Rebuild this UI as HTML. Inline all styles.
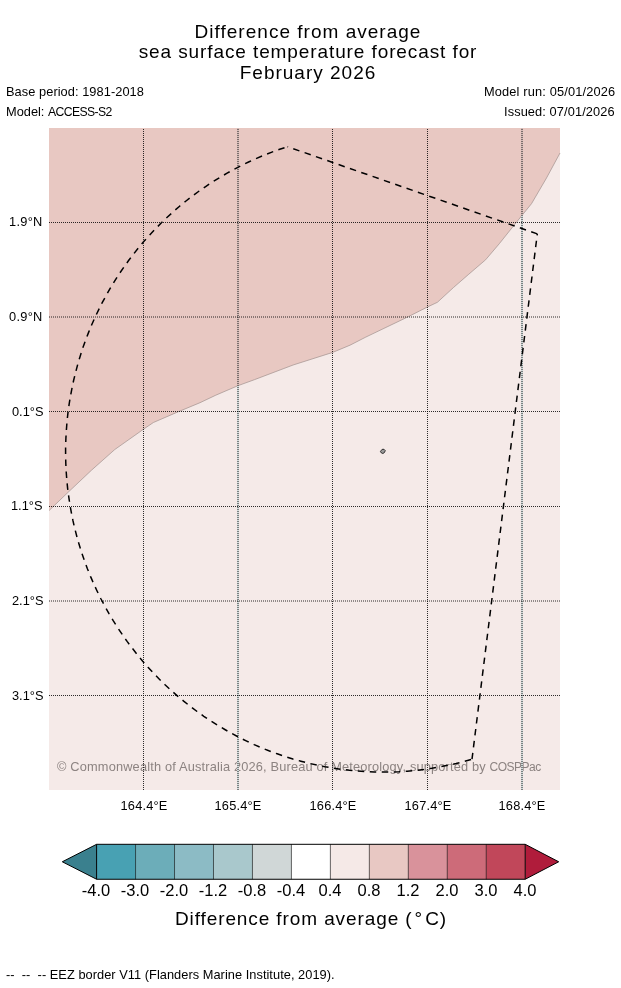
<!DOCTYPE html>
<html><head><meta charset="utf-8"><title>SST forecast</title>
<style>
html,body{margin:0;padding:0;background:#fff;}
body{width:621px;height:988px;position:relative;overflow:hidden;font-family:"Liberation Sans",sans-serif;}
.t{will-change:transform;position:absolute;white-space:nowrap;font-family:"Liberation Sans",sans-serif;}
</style></head><body>
<svg width="621" height="988" viewBox="0 0 621 988" style="position:absolute;left:0;top:0">
<rect x="49" y="128" width="511" height="662" fill="#f5eae8"/>
<path d="M49,128 L49.0,510.6 L68.3,492.1 L91.5,470.2 L114.7,449.6 L143.1,429.5 L153.4,422.5 L179.1,411.4 L200.0,402.7 L215.8,395.2 L238.2,385.6 L254.4,379.7 L293.1,365.0 L332.7,352.4 L350.0,345.2 L365.8,337.1 L408.3,316.7 L427.6,306.9 L437.4,302.3 L453.4,287.6 L468.8,274.2 L485.6,259.8 L499.3,243.7 L514.7,224.4 L531.5,203.7 L546.5,178.0 L560.0,153.0 L560,128 Z" fill="#e8c8c2"/>
<path d="M49.0,510.6 L68.3,492.1 L91.5,470.2 L114.7,449.6 L143.1,429.5 L153.4,422.5 L179.1,411.4 L200.0,402.7 L215.8,395.2 L238.2,385.6 L254.4,379.7 L293.1,365.0 L332.7,352.4 L350.0,345.2 L365.8,337.1 L408.3,316.7 L427.6,306.9 L437.4,302.3 L453.4,287.6 L468.8,274.2 L485.6,259.8 L499.3,243.7 L514.7,224.4 L531.5,203.7 L546.5,178.0 L560.0,153.0" fill="none" stroke="#a0908e" stroke-width="0.7"/>
</svg>

<div class="t" style="left:57.2px;top:757.96px;font-size:12.8px;line-height:17px;color:#8c8381;letter-spacing:0.165px">© Commonwealth of Australia 2026, Bureau of Meteorology, supported by <span style="font-size:12px;letter-spacing:-0.5px">COSPPac</span></div>

<svg width="621" height="988" viewBox="0 0 621 988" style="position:absolute;left:0;top:0">
<path d="M380.45,451.45 L382,449.4 L384,449.25 L385.3,450.65 L384.35,452.65 L382.9,453.5 L381.35,452.95 Z" fill="#9a9a9a" stroke="#111" stroke-width="0.8" stroke-linejoin="round"/>
<line x1="143.50" y1="790" x2="143.50" y2="128" stroke="#000" stroke-opacity="0.82" stroke-width="1" stroke-dasharray="1 1"/>
<line x1="238.00" y1="790" x2="238.00" y2="385.7" stroke="#d3dcdc" stroke-width="2"/>
<line x1="238.00" y1="385.7" x2="238.00" y2="128" stroke="#d4bcb8" stroke-width="2"/>
<line x1="238.00" y1="790" x2="238.00" y2="128" stroke="#000" stroke-opacity="0.82" stroke-width="1" stroke-dasharray="1 1"/>
<line x1="332.50" y1="790" x2="332.50" y2="128" stroke="#000" stroke-opacity="0.82" stroke-width="1" stroke-dasharray="1 1"/>
<line x1="427.50" y1="790" x2="427.50" y2="128" stroke="#000" stroke-opacity="0.82" stroke-width="1" stroke-dasharray="1 1"/>
<line x1="522.00" y1="790" x2="522.00" y2="215.3" stroke="#d3dcdc" stroke-width="2"/>
<line x1="522.00" y1="215.3" x2="522.00" y2="128" stroke="#d4bcb8" stroke-width="2"/>
<line x1="522.00" y1="790" x2="522.00" y2="128" stroke="#000" stroke-opacity="0.82" stroke-width="1" stroke-dasharray="1 1"/>
<line x1="49" y1="222.50" x2="560" y2="222.50" stroke="#000" stroke-opacity="0.82" stroke-width="1" stroke-dasharray="1 1"/>
<line x1="49" y1="317.00" x2="560" y2="317.00" stroke="#000" stroke-opacity="0.82" stroke-width="1" stroke-dasharray="1 1"/>
<line x1="49" y1="411.50" x2="560" y2="411.50" stroke="#000" stroke-opacity="0.82" stroke-width="1" stroke-dasharray="1 1"/>
<line x1="49" y1="506.50" x2="560" y2="506.50" stroke="#000" stroke-opacity="0.82" stroke-width="1" stroke-dasharray="1 1"/>
<line x1="49" y1="601.00" x2="560" y2="601.00" stroke="#000" stroke-opacity="0.82" stroke-width="1" stroke-dasharray="1 1"/>
<line x1="49" y1="695.50" x2="560" y2="695.50" stroke="#000" stroke-opacity="0.82" stroke-width="1" stroke-dasharray="1 1"/>
<g fill="none" stroke="#000" stroke-width="1.5" stroke-dasharray="6.5 5.5">
<path d="M287.5,146.7 L537.3,233.9" stroke-dashoffset="5.9"/>
<path d="M537.3,233.9 L472,759.2" stroke-dashoffset="5.1"/>
<path d="M287.5,146.7 L279.7,149.3 L271.9,152.1 L264.2,155.1 L256.6,158.4 L249.1,161.8 L241.6,165.4 L234.3,169.2 L227.1,173.2 L219.9,177.4 L212.9,181.7 L206.0,186.3 L199.2,191.0 L192.5,195.9 L186.0,201.0 L179.6,206.2 L173.3,211.7 L167.2,217.2 L161.2,223.0 L155.4,228.9 L149.7,234.9 L144.2,241.1 L138.8,247.4 L133.7,253.9 L128.6,260.5 L123.8,267.3 L119.1,274.1 L114.6,281.1 L110.3,288.2 L106.2,295.4 L102.2,302.7 L98.5,310.1 L94.9,317.6 L91.5,325.2 L88.4,332.9 L85.4,340.7 L82.6,348.5 L80.1,356.4 L77.7,364.4 L75.6,372.5 L73.6,380.5 L71.9,388.7 L70.3,396.9 L69.0,405.1 L67.9,413.3 L67.0,421.6 L66.4,429.9 L65.9,438.2 L65.6,446.5 L65.6,454.9 L65.8,463.2 L66.2,471.5 L66.8,479.8 L67.6,488.1 L68.7,496.3 L69.9,504.6 L71.4,512.8 L73.0,520.9 L74.9,529.0 L77.0,537.1 L79.3,545.1 L81.8,553.0 L84.5,560.9 L87.4,568.7 L90.5,576.4 L93.8,584.0 L97.3,591.5 L101.0,599.0 L104.9,606.3 L109.0,613.6 L113.2,620.7 L117.7,627.7 L122.3,634.6 L127.1,641.4 L132.1,648.0 L137.2,654.5 L142.5,660.9 L148.0,667.2 L153.6,673.3 L159.4,679.2 L165.3,685.0 L171.4,690.6 L177.6,696.1 L184.0,701.4 L190.5,706.5 L197.1,711.5 L203.8,716.3 L210.7,720.9 L217.7,725.3 L224.8,729.5 L232.0,733.6 L239.3,737.5 L246.7,741.1 L254.2,744.6 L261.8,747.9 L269.5,751.0 L277.2,753.8 L285.0,756.5 L292.9,759.0 L300.9,761.2 L308.9,763.3 L316.9,765.1 L325.0,766.7 L333.1,768.1 L341.3,769.3 L349.5,770.3 L357.7,771.1 L366.0,771.6 L374.2,772.0 L382.4,772.1 L390.7,772.0 L398.9,771.7 L407.2,771.2 L415.4,770.4 L423.6,769.5 L431.8,768.3 L439.9,766.9 L448.0,765.3 L456.1,763.5 L464.1,761.5 L472.0,759.2" stroke-dashoffset="8.85"/>
</g>
<path d="M96.6,844.3 L62.3,861.775 L96.6,879.25 Z" fill="#3a808e"/>
<path d="M525.2,844.3 L558.7,861.775 L525.2,879.25 Z" fill="#b01c3b"/>
<rect x="96.60" y="844.3" width="39.26" height="34.950000000000045" fill="#48a1b3"/>
<rect x="135.56" y="844.3" width="39.26" height="34.950000000000045" fill="#6cadb9"/>
<rect x="174.53" y="844.3" width="39.26" height="34.950000000000045" fill="#8cbbc5"/>
<rect x="213.49" y="844.3" width="39.26" height="34.950000000000045" fill="#a9c8cc"/>
<rect x="252.45" y="844.3" width="39.26" height="34.950000000000045" fill="#d0d7d7"/>
<rect x="291.42" y="844.3" width="39.26" height="34.950000000000045" fill="#ffffff"/>
<rect x="330.38" y="844.3" width="39.26" height="34.950000000000045" fill="#f5e9e7"/>
<rect x="369.35" y="844.3" width="39.26" height="34.950000000000045" fill="#e8c8c3"/>
<rect x="408.31" y="844.3" width="39.26" height="34.950000000000045" fill="#d9929b"/>
<rect x="447.27" y="844.3" width="39.26" height="34.950000000000045" fill="#cd6b79"/>
<rect x="486.24" y="844.3" width="39.26" height="34.950000000000045" fill="#c1475a"/>
<line x1="96.60" y1="844.3" x2="96.60" y2="879.25" stroke="#000" stroke-width="1.0"/>
<line x1="135.56" y1="844.3" x2="135.56" y2="879.25" stroke="#000" stroke-width="0.6"/>
<line x1="174.53" y1="844.3" x2="174.53" y2="879.25" stroke="#000" stroke-width="0.6"/>
<line x1="213.49" y1="844.3" x2="213.49" y2="879.25" stroke="#000" stroke-width="0.6"/>
<line x1="252.45" y1="844.3" x2="252.45" y2="879.25" stroke="#000" stroke-width="0.6"/>
<line x1="291.42" y1="844.3" x2="291.42" y2="879.25" stroke="#000" stroke-width="0.6"/>
<line x1="330.38" y1="844.3" x2="330.38" y2="879.25" stroke="#000" stroke-width="0.6"/>
<line x1="369.35" y1="844.3" x2="369.35" y2="879.25" stroke="#000" stroke-width="0.6"/>
<line x1="408.31" y1="844.3" x2="408.31" y2="879.25" stroke="#000" stroke-width="0.6"/>
<line x1="447.27" y1="844.3" x2="447.27" y2="879.25" stroke="#000" stroke-width="0.6"/>
<line x1="486.24" y1="844.3" x2="486.24" y2="879.25" stroke="#000" stroke-width="0.6"/>
<line x1="525.20" y1="844.3" x2="525.20" y2="879.25" stroke="#000" stroke-width="1.0"/>
<path d="M96.6,844.3 L62.3,861.775 L96.6,879.25 L525.2,879.25 L558.7,861.775 L525.2,844.3 Z" fill="none" stroke="#000" stroke-width="1" stroke-linejoin="miter"/>
</svg>
<div class="t" style="top:18.52px;font-size:19px;line-height:25px;color:#000;letter-spacing:1.02px;left:108.40px;width:400px;text-align:center;">Difference from average</div>
<div class="t" style="top:39.02px;font-size:19px;line-height:25px;color:#000;letter-spacing:0.9px;left:107.50px;width:400px;text-align:center;">sea surface temperature forecast for</div>
<div class="t" style="top:59.62px;font-size:19px;line-height:25px;color:#000;letter-spacing:1.0px;left:108.20px;width:400px;text-align:center;">February 2026</div>
<div class="t" style="top:82.86px;font-size:12.8px;line-height:17px;color:#000;letter-spacing:0.06px;left:6.00px;">Base period: 1981-2018</div>
<div class="t" style="top:102.86px;font-size:12.8px;line-height:17px;color:#000;left:6.00px;">Model: <span style="font-size:12.2px;letter-spacing:-0.6px">ACCESS-S2</span></div>
<div class="t" style="top:82.86px;font-size:12.8px;line-height:17px;color:#000;letter-spacing:0.15px;right:6.00px;">Model run: 05/01/2026</div>
<div class="t" style="top:102.86px;font-size:12.8px;line-height:17px;color:#000;letter-spacing:0.1px;right:6.00px;">Issued: 07/01/2026</div>
<div class="t" style="top:212.86px;font-size:12.8px;line-height:17px;color:#000;letter-spacing:0.3px;right:578.00px;">1.9°N</div>
<div class="t" style="top:307.86px;font-size:12.8px;line-height:17px;color:#000;letter-spacing:0.3px;right:578.00px;">0.9°N</div>
<div class="t" style="top:402.86px;font-size:12.8px;line-height:17px;color:#000;right:577.40px;">0.1°S</div>
<div class="t" style="top:496.96px;font-size:12.8px;line-height:17px;color:#000;right:578.20px;">1.1°S</div>
<div class="t" style="top:591.96px;font-size:12.8px;line-height:17px;color:#000;right:577.40px;">2.1°S</div>
<div class="t" style="top:686.96px;font-size:12.8px;line-height:17px;color:#000;right:577.40px;">3.1°S</div>
<div class="t" style="top:797.16px;font-size:12.8px;line-height:17px;color:#000;letter-spacing:0.17px;left:93.50px;width:100px;text-align:center;">164.4°E</div>
<div class="t" style="top:797.16px;font-size:12.8px;line-height:17px;color:#000;letter-spacing:0.17px;left:188.00px;width:100px;text-align:center;">165.4°E</div>
<div class="t" style="top:797.16px;font-size:12.8px;line-height:17px;color:#000;letter-spacing:0.17px;left:282.50px;width:100px;text-align:center;">166.4°E</div>
<div class="t" style="top:797.16px;font-size:12.8px;line-height:17px;color:#000;letter-spacing:0.17px;left:377.50px;width:100px;text-align:center;">167.4°E</div>
<div class="t" style="top:797.16px;font-size:12.8px;line-height:17px;color:#000;letter-spacing:0.17px;left:472.00px;width:100px;text-align:center;">168.4°E</div>
<div class="t" style="top:879.68px;font-size:16.5px;line-height:21px;color:#000;left:46.30px;width:100px;text-align:center;">-4.0</div>
<div class="t" style="top:879.68px;font-size:16.5px;line-height:21px;color:#000;left:85.26px;width:100px;text-align:center;">-3.0</div>
<div class="t" style="top:879.68px;font-size:16.5px;line-height:21px;color:#000;left:124.23px;width:100px;text-align:center;">-2.0</div>
<div class="t" style="top:879.68px;font-size:16.5px;line-height:21px;color:#000;left:163.19px;width:100px;text-align:center;">-1.2</div>
<div class="t" style="top:879.68px;font-size:16.5px;line-height:21px;color:#000;left:202.15px;width:100px;text-align:center;">-0.8</div>
<div class="t" style="top:879.68px;font-size:16.5px;line-height:21px;color:#000;left:241.12px;width:100px;text-align:center;">-0.4</div>
<div class="t" style="top:879.68px;font-size:16.5px;line-height:21px;color:#000;left:280.08px;width:100px;text-align:center;">0.4</div>
<div class="t" style="top:879.68px;font-size:16.5px;line-height:21px;color:#000;left:319.05px;width:100px;text-align:center;">0.8</div>
<div class="t" style="top:879.68px;font-size:16.5px;line-height:21px;color:#000;left:358.01px;width:100px;text-align:center;">1.2</div>
<div class="t" style="top:879.68px;font-size:16.5px;line-height:21px;color:#000;left:396.97px;width:100px;text-align:center;">2.0</div>
<div class="t" style="top:879.68px;font-size:16.5px;line-height:21px;color:#000;left:435.94px;width:100px;text-align:center;">3.0</div>
<div class="t" style="top:879.68px;font-size:16.5px;line-height:21px;color:#000;left:474.90px;width:100px;text-align:center;">4.0</div>
<div class="t" style="top:906.22px;font-size:19px;line-height:25px;color:#000;letter-spacing:0.9px;left:110.50px;width:400px;text-align:center;">Difference from average (<span style="margin:0 2.2px 0 2.0px">°</span>C)</div>
<div class="t" style="top:966.06px;font-size:12.8px;line-height:17px;color:#000;letter-spacing:0.04px;left:6.10px;">--&nbsp; --&nbsp; -- EEZ border V11 (Flanders Marine Institute, 2019).</div>
</body></html>
